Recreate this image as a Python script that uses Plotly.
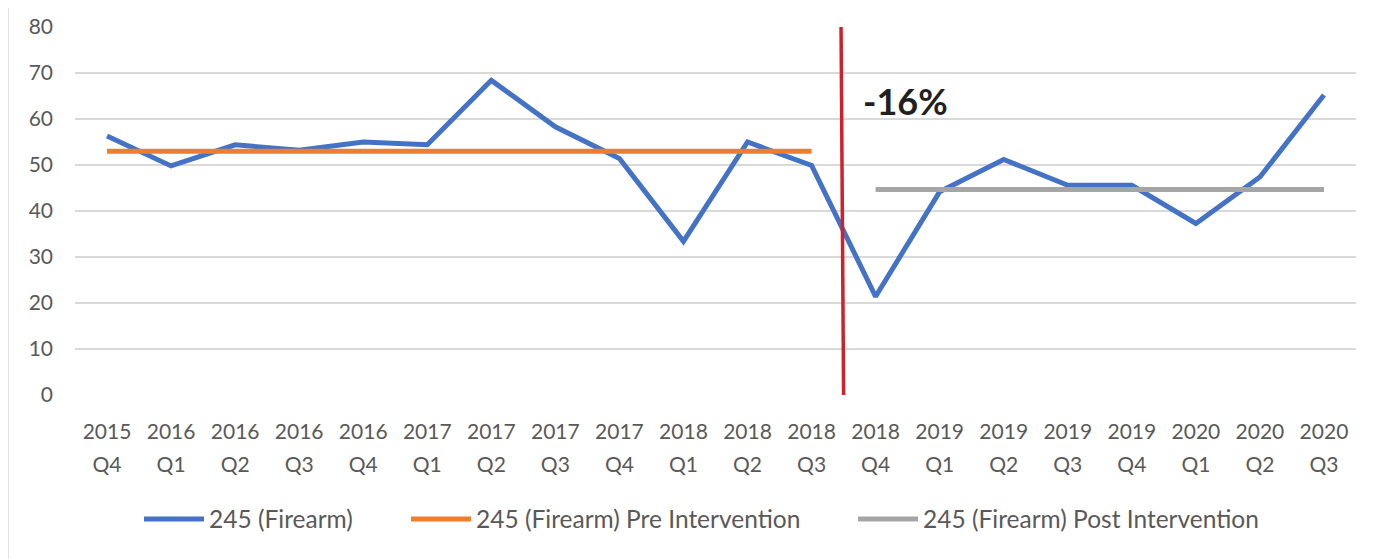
import plotly.graph_objects as go

years = ["2015", "2016", "2016", "2016", "2016", "2017", "2017", "2017", "2017", "2018",
         "2018", "2018", "2018", "2019", "2019", "2019", "2019", "2020", "2020", "2020"]
quarters = ["Q4", "Q1", "Q2", "Q3", "Q4", "Q1", "Q2", "Q3", "Q4", "Q1",
            "Q2", "Q3", "Q4", "Q1", "Q2", "Q3", "Q4", "Q1", "Q2", "Q3"]
categories = [f"{y} {q}" for y, q in zip(years, quarters)]

firearm = [56.3, 49.8, 54.4, 53.2, 55.0, 54.4, 68.4, 58.3, 51.4, 33.4,
           55.0, 49.9, 21.4, 44.2, 51.2, 45.6, 45.6, 37.3, 47.4, 65.2]
pre_mean = 53.0
post_mean = 44.7
pre_count = 12
change_label = "-16%"
intervention_top = 11.46
intervention_bottom = 11.50

FONT = "Lato, Open Sans, sans-serif"
GREY_TXT = "#595959"
OFF = 8  # page body margin
W, H = 1389 - OFF, 559 - OFF
ML, MR, MT, MB = 67, 33, 19, 164
PW, PH = W - ML - MR, H - MT - MB


def px_x(p):
    return (p - OFF - ML) / PW


def px_y(p):
    return (H - MB - (p - OFF)) / PH


fig = go.Figure()
fig.add_trace(go.Scatter(x=categories, y=firearm, mode="lines", name="245 (Firearm)",
                         line=dict(color="#4472C4", width=5), legend="legend"))
fig.add_trace(go.Scatter(x=categories[:pre_count], y=[pre_mean] * pre_count, mode="lines",
                         name="245 (Firearm) Pre Intervention",
                         line=dict(color="#ED7D31", width=5), legend="legend2"))
fig.add_trace(go.Scatter(x=categories[pre_count:], y=[post_mean] * (len(categories) - pre_count),
                         mode="lines", name="245 (Firearm) Post Intervention",
                         line=dict(color="#A5A5A5", width=5), legend="legend3"))
# carrier for the quarter tick row (not visible)
fig.add_trace(go.Scatter(x=list(range(len(quarters))), y=firearm, xaxis="x2", mode="lines",
                         line=dict(color="rgba(0,0,0,0)", width=0), showlegend=False,
                         hoverinfo="skip"))

fig.add_shape(type="line", xref="x", yref="y", x0=intervention_top, x1=intervention_bottom,
              y0=80, y1=0, line=dict(color="#D0202A", width=3.5))

fig.add_annotation(x=intervention_top + 0.31, y=64.0, xref="x", yref="y",
                   text="<b>" + change_label + "</b>",
                   showarrow=False, xanchor="left", yanchor="middle",
                   font=dict(family=FONT, size=36, color="#231F20"))

# chart frame left border
fig.add_shape(type="line", xref="paper", yref="paper", x0=px_x(8), x1=px_x(8),
              y0=px_y(559), y1=px_y(8), line=dict(color="#D9D9D9", width=1.5))

legend_common = dict(orientation="h", xanchor="left", yanchor="middle", y=px_y(519),
                     font=dict(family=FONT, size=24.5, color=GREY_TXT), itemwidth=60,
                     bgcolor="rgba(0,0,0,0)")

fig.update_layout(
    width=W, height=H,
    margin=dict(l=ML, r=MR, t=MT, b=MB),
    paper_bgcolor="white", plot_bgcolor="white",
    font=dict(family=FONT, size=21, color=GREY_TXT),
    showlegend=True,
    legend=dict(x=px_x(139), **legend_common),
    legend2=dict(x=px_x(406), **legend_common),
    legend3=dict(x=px_x(853), **legend_common),
    xaxis=dict(type="category", range=[-0.5, 19.5], tickmode="array", tickvals=categories,
               ticktext=years, showgrid=False, zeroline=False, showline=False,
               ticks="", tickangle=0, ticklabelstandoff=22, automargin=False,
               tickfont=dict(size=21, color=GREY_TXT)),
    xaxis2=dict(type="linear", range=[-0.5, 19.5], tickmode="array",
                tickvals=list(range(len(quarters))), ticktext=quarters,
                overlaying="x", anchor="y", side="bottom", showgrid=False, zeroline=False,
                showline=False, ticks="", tickangle=0, ticklabelstandoff=55, automargin=False,
                tickfont=dict(size=21, color=GREY_TXT)),
    yaxis=dict(range=[0, 80], dtick=10, showgrid=True, gridcolor="#D9D9D9", gridwidth=2,
               zeroline=False, showline=False, ticks="", ticklabelstandoff=21, automargin=False,
               tickfont=dict(size=21, color=GREY_TXT)),
)

fig.write_html("out.html")
